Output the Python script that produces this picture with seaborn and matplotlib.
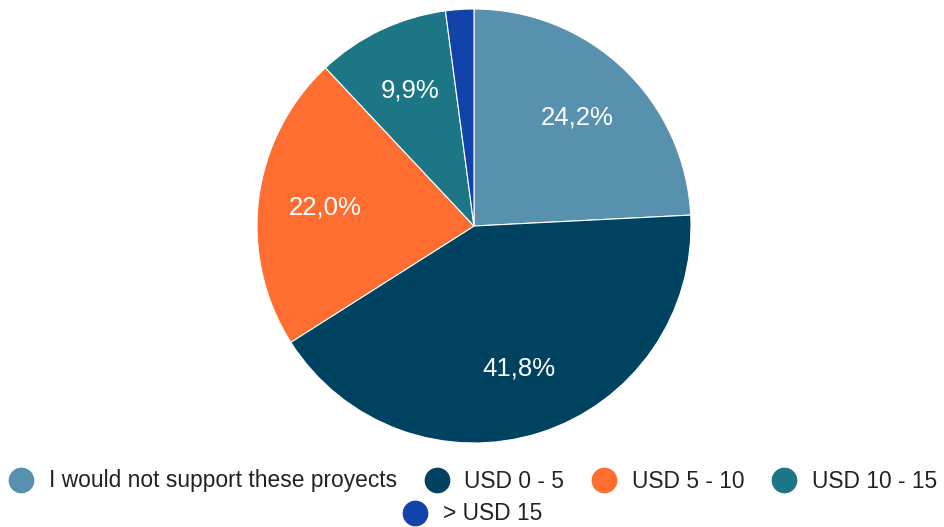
import matplotlib
matplotlib.use("Agg")
import matplotlib.pyplot as plt
from matplotlib.lines import Line2D
import seaborn as sns

categories = ["I would not support these proyects", "USD 0 - 5", "USD 5 - 10", "USD 10 - 15", "> USD 15"]
shares = [24.2, 41.8, 22.0, 9.9, 2.1]
colors = ["#5891AD", "#004360", "#FF6D31", "#1C7685", "#1243A9"]

sns.set_theme(style="white")
plt.rcParams["font.family"] = ["Liberation Sans", "DejaVu Sans"]

fig = plt.figure(figsize=(9.44, 5.27), dpi=100)
fig.patch.set_facecolor("white")

# pie sits in a square box centred near the top of the figure
W, H = 944, 527
cx, cy, r = 474, 226, 217
ax = fig.add_axes([(cx - r) / W, (H - cy - r) / H, 2 * r / W, 2 * r / H])


def pct_label(p):
    return "" if p < 5 else f"{p:.1f}%".replace(".", ",")


wedges, texts, autotexts = ax.pie(
    shares,
    colors=colors,
    startangle=90,
    counterclock=False,
    autopct=pct_label,
    pctdistance=0.69,
    wedgeprops=dict(edgecolor="white", linewidth=0.8),
    textprops=dict(color="white", fontsize=18.5),
    radius=1.0,
)
ax.set_xlim(-1, 1)
ax.set_ylim(-1, 1)
ax.set_aspect("equal")
ax.axis("off")


def handle(c):
    return Line2D([], [], marker="o", linestyle="none", markersize=17.5,
                  markerfacecolor=c, markeredgecolor=c)


leg_kw = dict(frameon=False, fontsize=16.4, handletextpad=0.62, columnspacing=1.14,
              handlelength=1.2, labelcolor="#222222", borderpad=0, borderaxespad=0)
leg1 = fig.legend([handle(c) for c in colors[:4]], categories[:4], ncol=4,
                  loc="center", bbox_to_anchor=(0.5, 1 - 481 / H), **leg_kw)
leg2 = fig.legend([handle(colors[4])], categories[4:], ncol=1,
                  loc="center", bbox_to_anchor=(0.5, 1 - 514 / H), **leg_kw)

fig.savefig("out.png", dpi=100, facecolor="white")
